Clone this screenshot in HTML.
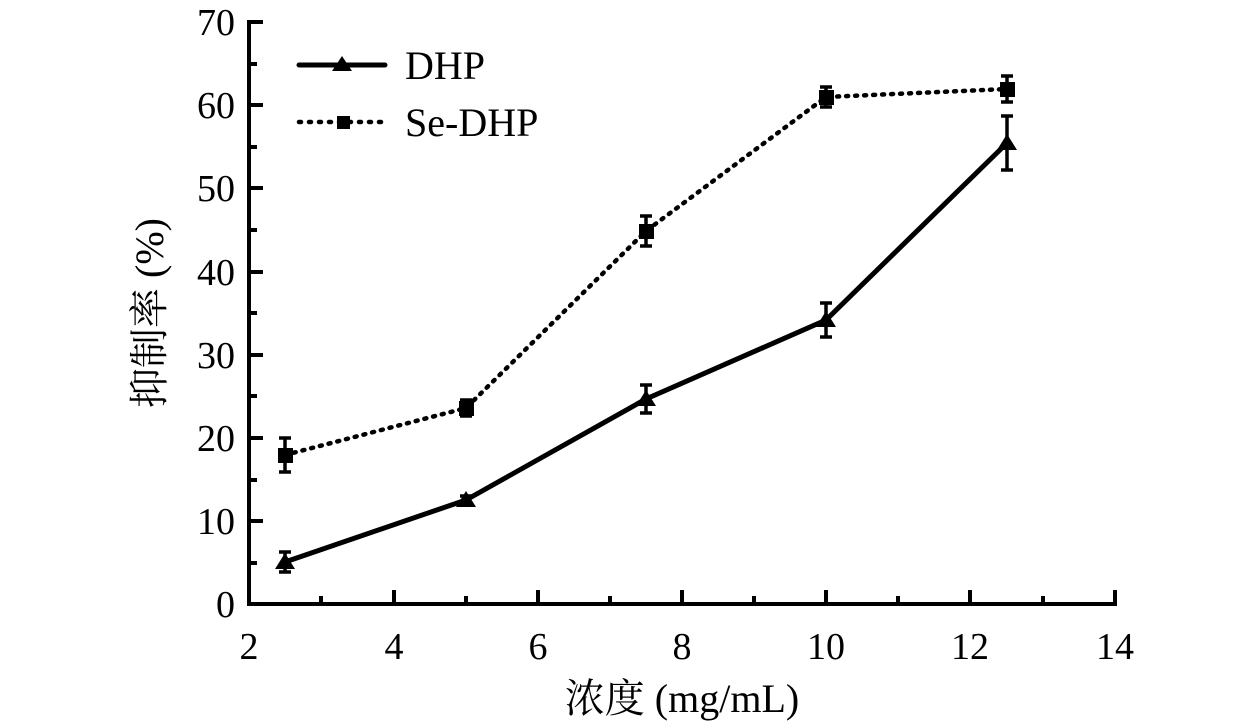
<!DOCTYPE html>
<html><head><meta charset="utf-8"><style>body{margin:0;background:#fff}svg{display:block}</style></head><body>
<svg width="1260" height="728" viewBox="0 0 1260 728" xmlns="http://www.w3.org/2000/svg" font-family="'Liberation Serif','Noto Serif CJK SC',serif">
<g stroke="#000" stroke-width="4" fill="none">
<path d="M249,20 V604 H1117"/>
<path d="M249,22h14M249,105h14M249,188h14M249,272h14M249,355h14M249,438h14M249,521h14"/>
<path d="M249,64h8M249,147h8M249,230h8M249,313h8M249,396h8M249,480h8M249,563h8"/>
<path d="M394,604v-14M538,604v-14M682,604v-14M826,604v-14M970,604v-14M1115,604v-14"/>
<path d="M321,604v-8M466,604v-8M610,604v-8M754,604v-8M898,604v-8M1043,604v-8"/>
</g>
<g font-size="38" text-anchor="end">
<text x="235" y="617">0</text><text x="235" y="534">10</text><text x="235" y="451">20</text><text x="235" y="368">30</text><text x="235" y="285">40</text><text x="235" y="201">50</text><text x="235" y="118">60</text><text x="235" y="35">70</text>
</g>
<g font-size="38" text-anchor="middle">
<text x="249" y="659">2</text><text x="394" y="659">4</text><text x="538" y="659">6</text><text x="682" y="659">8</text><text x="826" y="659">10</text><text x="970" y="659">12</text><text x="1115" y="659">14</text>
</g>
<g font-size="40" text-anchor="middle">
<text x="682" y="712">浓度 (mg/mL)</text>
<text transform="translate(163,313) rotate(-90)">抑制率 (%)</text>
</g>
<g stroke="#000" stroke-width="5" fill="none">
<polyline points="285,562 466,500 646,399 826,320 1007,143"/>
</g>
<g stroke="#000" stroke-width="3.5" fill="none">
<path d="M285,552v20M279,552h12M279,572h12 M466,496v8M460,496h12M460,504h12 M646,385v28M640,385h12M640,413h12 M826,303v34M820,303h12M820,337h12 M1007,116v54M1001,116h12M1001,170h12"/>
</g>
<g fill="#000">
<path d="M285,553l10,16h-20z M466,491l10,16h-20z M646,390l10,16h-20z M826,311l10,16h-20z M1007,134l10,16h-20z"/>
</g>
<g stroke="#000" fill="none">
<polyline stroke-width="4.5" stroke-dasharray="2,7" stroke-linecap="round" points="285,455 466,408 646,231 826,97 1007,89"/>
<path stroke-width="3.5" d="M285,438v34M279,438h12M279,472h12 M466,400v16M460,400h12M460,416h12 M646,216v30M640,216h12M640,246h12 M826,87v20M820,87h12M820,107h12 M1007,76v26M1001,76h12M1001,102h12"/>
</g>
<g fill="#000">
<rect x="278" y="448" width="15" height="15"/><rect x="459" y="401" width="15" height="15"/><rect x="639" y="224" width="15" height="15"/><rect x="819" y="90" width="15" height="15"/><rect x="1000" y="82" width="15" height="15"/>
</g>
<path d="M299,65H385" stroke="#000" stroke-width="5" stroke-linecap="round"/>
<path d="M342,56l10,15h-20z" fill="#000"/>
<path d="M299,122H385" stroke="#000" stroke-width="4.5" stroke-dasharray="2,8" stroke-linecap="round"/>
<rect x="337" y="116" width="13" height="13" fill="#000"/>
<g font-size="40"><text x="405" y="79">DHP</text><text x="405" y="136">Se-DHP</text></g>
</svg>
</body></html>
